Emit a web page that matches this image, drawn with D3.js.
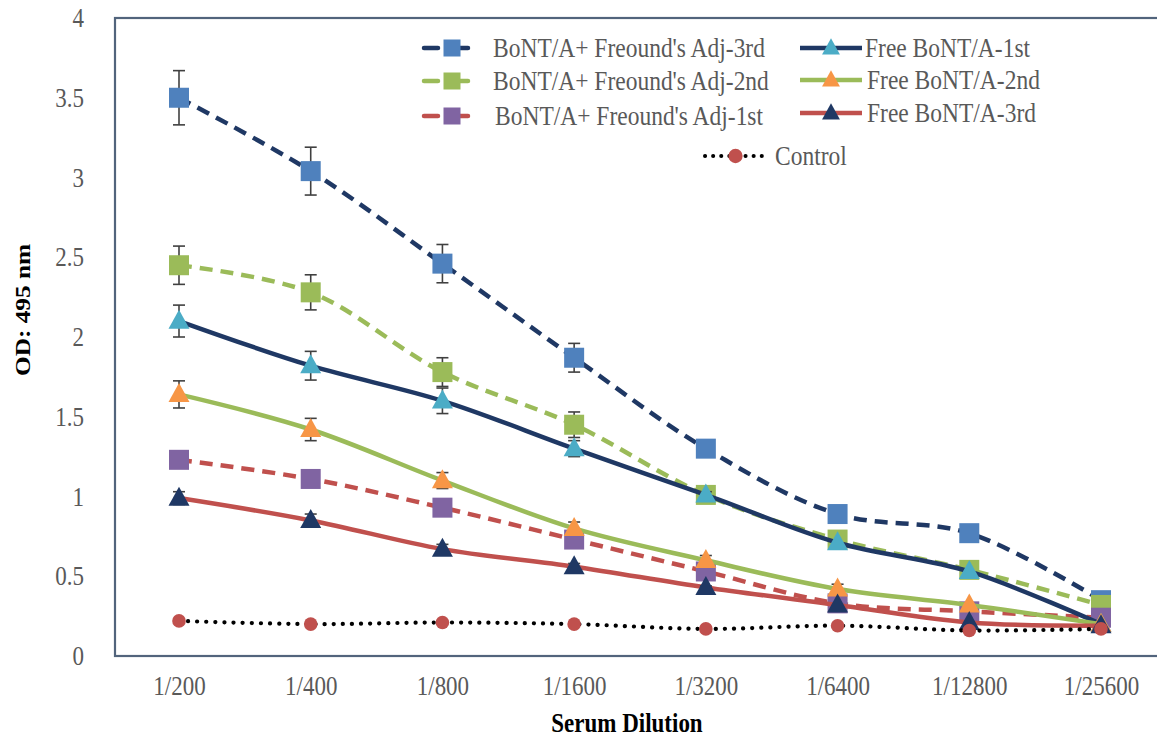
<!DOCTYPE html>
<html>
<head>
<meta charset="utf-8">
<script src="https://cdn.jsdelivr.net/npm/d3@7"></script>
<style>
  html, body { margin: 0; padding: 0; background: #ffffff; }
  svg { display: block; }
  text { font-family: "Liberation Serif", "Times New Roman", serif; }
</style>
</head>
<body>
<svg id="chart" width="1157" height="736"></svg>
<script>
// ---------- data ----------
const categories = ["1/200", "1/400", "1/800", "1/1600", "1/3200", "1/6400", "1/12800", "1/25600"];
const yTicks = [0, 0.5, 1, 1.5, 2, 2.5, 3, 3.5, 4];

const seriesNames = [
  "BoNT/A+ Freound's Adj-3rd",
  "BoNT/A+ Freound's Adj-2nd",
  "BoNT/A+ Freound's Adj-1st",
  "Free BoNT/A-1st",
  "Free BoNT/A-2nd",
  "Free BoNT/A-3rd",
  "Control"
];

const adj3rd  = [3.50, 3.04, 2.46, 1.87, 1.30, 0.89, 0.77, 0.35];
const adj2nd  = [2.45, 2.28, 1.78, 1.45, 1.01, 0.73, 0.54, 0.32];
const adj1st  = [1.23, 1.11, 0.93, 0.73, 0.53, 0.33, 0.28, 0.24];
const free1st = [2.10, 1.82, 1.60, 1.30, 1.01, 0.71, 0.53, 0.20];
const free2nd = [1.64, 1.42, 1.10, 0.80, 0.60, 0.42, 0.32, 0.20];
const free3rd = [0.99, 0.85, 0.67, 0.56, 0.43, 0.32, 0.21, 0.19];
const control = [0.22, 0.20, 0.21, 0.20, 0.17, 0.19, 0.16, 0.17];

const adj3rdErr  = [0.17, 0.15, 0.12, 0.09, 0.04, 0, 0, 0];
const adj2ndErr  = [0.12, 0.11, 0.09, 0.08, 0.02, 0, 0, 0];
const adj1stErr  = [0.03, 0.02, 0.02, 0.02, 0.02, 0, 0, 0];
const free1stErr = [0.10, 0.09, 0.08, 0.05, 0.02, 0, 0, 0];
const free2ndErr = [0.085, 0.07, 0.05, 0.04, 0.03, 0.03, 0, 0];
const free3rdErr = [0.04, 0.04, 0.03, 0.02, 0.01, 0, 0, 0];
const controlErr = [0, 0, 0, 0, 0, 0, 0, 0];

// ---------- styles ----------
const series = [
  { name: seriesNames[0], values: adj3rd,  err: adj3rdErr,  line: "#1F3864", marker: "#4F81BD", shape: "square",   dash: "13 8" },
  { name: seriesNames[1], values: adj2nd,  err: adj2ndErr,  line: "#9BBB59", marker: "#9BBB59", shape: "square",   dash: "13 8" },
  { name: seriesNames[2], values: adj1st,  err: adj1stErr,  line: "#C0504D", marker: "#8064A2", shape: "square",   dash: "13 8" },
  { name: seriesNames[3], values: free1st, err: free1stErr, line: "#1F3864", marker: "#4BACC6", shape: "triangle", dash: null },
  { name: seriesNames[4], values: free2nd, err: free2ndErr, line: "#9BBB59", marker: "#F79646", shape: "triangle", dash: null },
  { name: seriesNames[5], values: free3rd, err: free3rdErr, line: "#C0504D", marker: "#1F3864", shape: "triangle", dash: null },
  { name: seriesNames[6], values: control, err: controlErr, line: "#000000", marker: "#C0504D", shape: "circle",   dash: "0.1 9", dotted: true }
];

const svg = d3.select("#chart");
const VS = 1.15; // vertical stretch of text as in the reference

const x = d3.scalePoint().domain(categories).range([179, 1101]);
const y = d3.scaleLinear().domain([0, 4]).range([656, 18]);

// plot frame
svg.append("rect")
  .attr("x", 115).attr("y", 18)
  .attr("width", 1160).attr("height", 638)
  .attr("fill", "none")
  .attr("stroke", "#52647c")
  .attr("stroke-width", 2.2);

// y axis tick labels
const yAxis = d3.axisLeft(y).tickValues(yTicks).tickSize(0).tickPadding(0)
  .tickFormat(d => String(d));
const gy = svg.append("g").attr("transform", "translate(84,0)").call(yAxis);
gy.select(".domain").remove();
gy.selectAll("text")
  .attr("font-family", "Liberation Serif")
  .attr("font-size", 23)
  .attr("fill", "#595959")
  .attr("dy", "0.33em")
  .attr("transform", `scale(1,${VS})`);

// x axis tick labels
const xAxis = d3.axisBottom(x).tickSize(0).tickPadding(0);
const gx = svg.append("g").attr("transform", "translate(0,676)").call(xAxis);
gx.select(".domain").remove();
gx.selectAll("text")
  .attr("font-family", "Liberation Serif")
  .attr("font-size", 23)
  .attr("fill", "#595959")
  .attr("dy", "0.71em")
  .attr("transform", `scale(1,${VS})`);

// axis titles
svg.append("text")
  .attr("transform", `translate(627,732) scale(1,${VS})`)
  .attr("text-anchor", "middle")
  .attr("font-size", 23).attr("font-weight", "bold")
  .attr("fill", "#000")
  .text("Serum Dilution");

svg.append("text")
  .attr("transform", `translate(30,310) rotate(-90) scale(${VS},1)`)
  .attr("text-anchor", "middle")
  .attr("font-size", 22).attr("font-weight", "bold")
  .attr("fill", "#000")
  .text("OD: 495 nm");

// ---------- marker drawing ----------
function drawMarker(g, shape, color, cx, cy, scale = 1) {
  if (shape === "square") {
    const s = 20 * scale;
    g.append("rect").attr("x", cx - s / 2).attr("y", cy - s / 2)
      .attr("width", s).attr("height", s).attr("fill", color);
  } else if (shape === "triangle") {
    const w = 21 * scale, h = 19 * scale;
    g.append("path")
      .attr("d", `M${cx},${cy - h * 0.6}L${cx + w / 2},${cy + h * 0.4}L${cx - w / 2},${cy + h * 0.4}Z`)
      .attr("fill", color);
  } else {
    g.append("circle").attr("cx", cx).attr("cy", cy).attr("r", 6.8 * scale).attr("fill", color);
  }
}

const lineGen = d3.line()
  .x((d, i) => x(categories[i]))
  .y(d => y(d))
  .curve(d3.curveCatmullRom.alpha(0.5));

const plot = svg.append("g");

series.forEach(s => {
  const g = plot.append("g");
  const p = g.append("path")
    .datum(s.values)
    .attr("d", lineGen)
    .attr("fill", "none")
    .attr("stroke", s.line)
    .attr("stroke-width", s.dotted ? 4.2 : 4.5);
  if (s.dash) p.attr("stroke-dasharray", s.dash);
  if (s.dotted) p.attr("stroke-linecap", "round");
  s.values.forEach((v, i) => {
    const e = s.err[i];
    if (!e) return;
    const cx = x(categories[i]);
    const eg = g.append("g").attr("stroke", "#404040").attr("stroke-width", 1.6);
    eg.append("line").attr("x1", cx).attr("x2", cx).attr("y1", y(v + e)).attr("y2", y(v - e));
    eg.append("line").attr("x1", cx - 6).attr("x2", cx + 6).attr("y1", y(v + e)).attr("y2", y(v + e));
    eg.append("line").attr("x1", cx - 6).attr("x2", cx + 6).attr("y1", y(v - e)).attr("y2", y(v - e));
  });
  s.values.forEach((v, i) => {
    drawMarker(g, s.shape, s.marker, x(categories[i]), y(v));
  });
});

// ---------- legend ----------
const legendPos = [
  { lx1: 422, lx2: 482, tx: 493, ty: 48 },
  { lx1: 422, lx2: 482, tx: 493, ty: 81 },
  { lx1: 422, lx2: 482, tx: 495, ty: 116 },
  { lx1: 800, lx2: 862, tx: 865, ty: 48 },
  { lx1: 800, lx2: 862, tx: 867, ty: 80 },
  { lx1: 800, lx2: 862, tx: 867, ty: 113 },
  { lx1: 705, lx2: 766, tx: 775, ty: 156 }
];

const legend = svg.append("g");
series.forEach((s, i) => {
  const lp = legendPos[i];
  const g = legend.append("g");
  const ln = g.append("line")
    .attr("x1", lp.lx1).attr("x2", lp.lx2)
    .attr("y1", lp.ty).attr("y2", lp.ty)
    .attr("stroke", s.line)
    .attr("stroke-width", s.dotted ? 4 : 4.5);
  if (s.dotted) {
    ln.attr("stroke-dasharray", "0.1 8").attr("stroke-linecap", "round");
  } else if (s.dash) {
    ln.attr("stroke-dasharray", "14 16").attr("stroke-dashoffset", -2).attr("stroke-linecap", "round");
  }
  drawMarker(g, s.shape, s.marker, (lp.lx1 + lp.lx2) / 2, lp.ty, s.shape === "circle" ? 1.05 : 0.85);
  g.append("text")
    .attr("transform", `translate(${lp.tx},${lp.ty}) scale(1,${VS})`)
    .attr("dy", "0.35em")
    .attr("font-size", 23.5)
    .attr("fill", "#595959")
    .text(s.name);
});
</script>
</body>
</html>
